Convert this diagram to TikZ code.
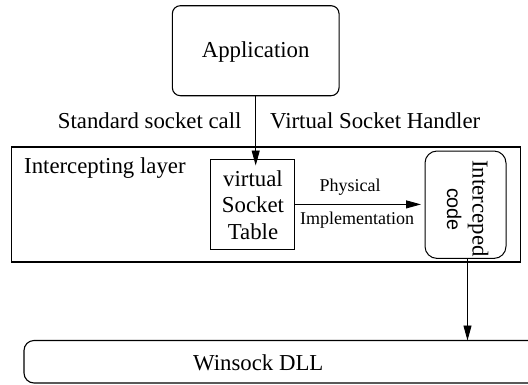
\documentclass[tikz,border=0pt]{standalone}
\usepackage{fontspec}
\setmainfont{Liberation Serif}
\setsansfont{Liberation Sans}
\usetikzlibrary{arrows.meta}
\tikzset{
  bigtext/.style={font=\fontsize{22.8}{27}\selectfont, inner sep=0pt},
  sanstext/.style={font=\sffamily\fontsize{19.8}{24}\selectfont, inner sep=0pt},
  smalltext/.style={font=\fontsize{18}{21}\selectfont, inner sep=0pt},
  boxshape/.style={draw, line width=1pt, inner sep=0pt, outer sep=0pt},
  arr/.style={-{Triangle[length=15pt,width=8pt]}, line width=0.9pt},
}
\begin{document}
\begin{tikzpicture}[x=1pt,y=-1pt]
\useasboundingbox (0,0) rectangle (528,384);
% boxes
\node[boxshape, rounded corners=8pt, line width=1.1pt, minimum width=166.7pt, minimum height=90pt] (app) at (255.7,50.7) {};
\node[boxshape, line width=1.4pt, minimum width=508.8pt, minimum height=115pt] (layer) at (266.1,204.3) {};
\node[boxshape, line width=0.8pt, minimum width=83.6pt, minimum height=89.8pt] (vst) at (252.5,204.4) {};
\node[boxshape, rounded corners=12pt, minimum width=81pt, minimum height=107.4pt] (ic) at (465.5,204.7) {};
\node[boxshape, rounded corners=10pt, line width=1.1pt, minimum width=536pt, minimum height=42.5pt] (ws) at (292,361.75) {};
% texts
\node[bigtext, anchor=base] (apptxt) at (255.7,57.3) {Application};
\node[bigtext, anchor=base east] (stdtxt) at (241.7,128.3) {Standard socket call};
\node[bigtext, anchor=base west] (vshtxt) at (270,128.3) {Virtual Socket Handler};
\node[bigtext, anchor=base west] (layertxt) at (24,173.5) {Intercepting layer};
\node[bigtext, anchor=base] (vst1) at (253,186) {virtual};
\node[bigtext, anchor=base] (vst2) at (253,212.8) {Socket};
\node[bigtext, anchor=base] (vst3) at (253,239.4) {Table};
\node[smalltext, anchor=base] (phys) at (350,191.7) {Physical};
\node[smalltext, anchor=base] (impl) at (357,224) {Implementation};
\node[bigtext, anchor=base, rotate=-90] (ic1) at (472.5,208.5) {Interceped};
\node[sanstext, anchor=base, rotate=-90] (ic2) at (447,209.5) {code};
\node[bigtext, anchor=base] (wstxt) at (258.3,370.7) {Winsock DLL};
% connectors
\draw[arr] (app.south) -- ([yshift=-6pt]app.south |- vst.north);
\draw[arr, shorten >=4pt] (vst.east) -- (vst.east -| ic.west);
\draw[arr] ([xshift=2pt]ic.south) -- ([xshift=2pt]ic.south |- ws.north);
\end{tikzpicture}
\end{document}
